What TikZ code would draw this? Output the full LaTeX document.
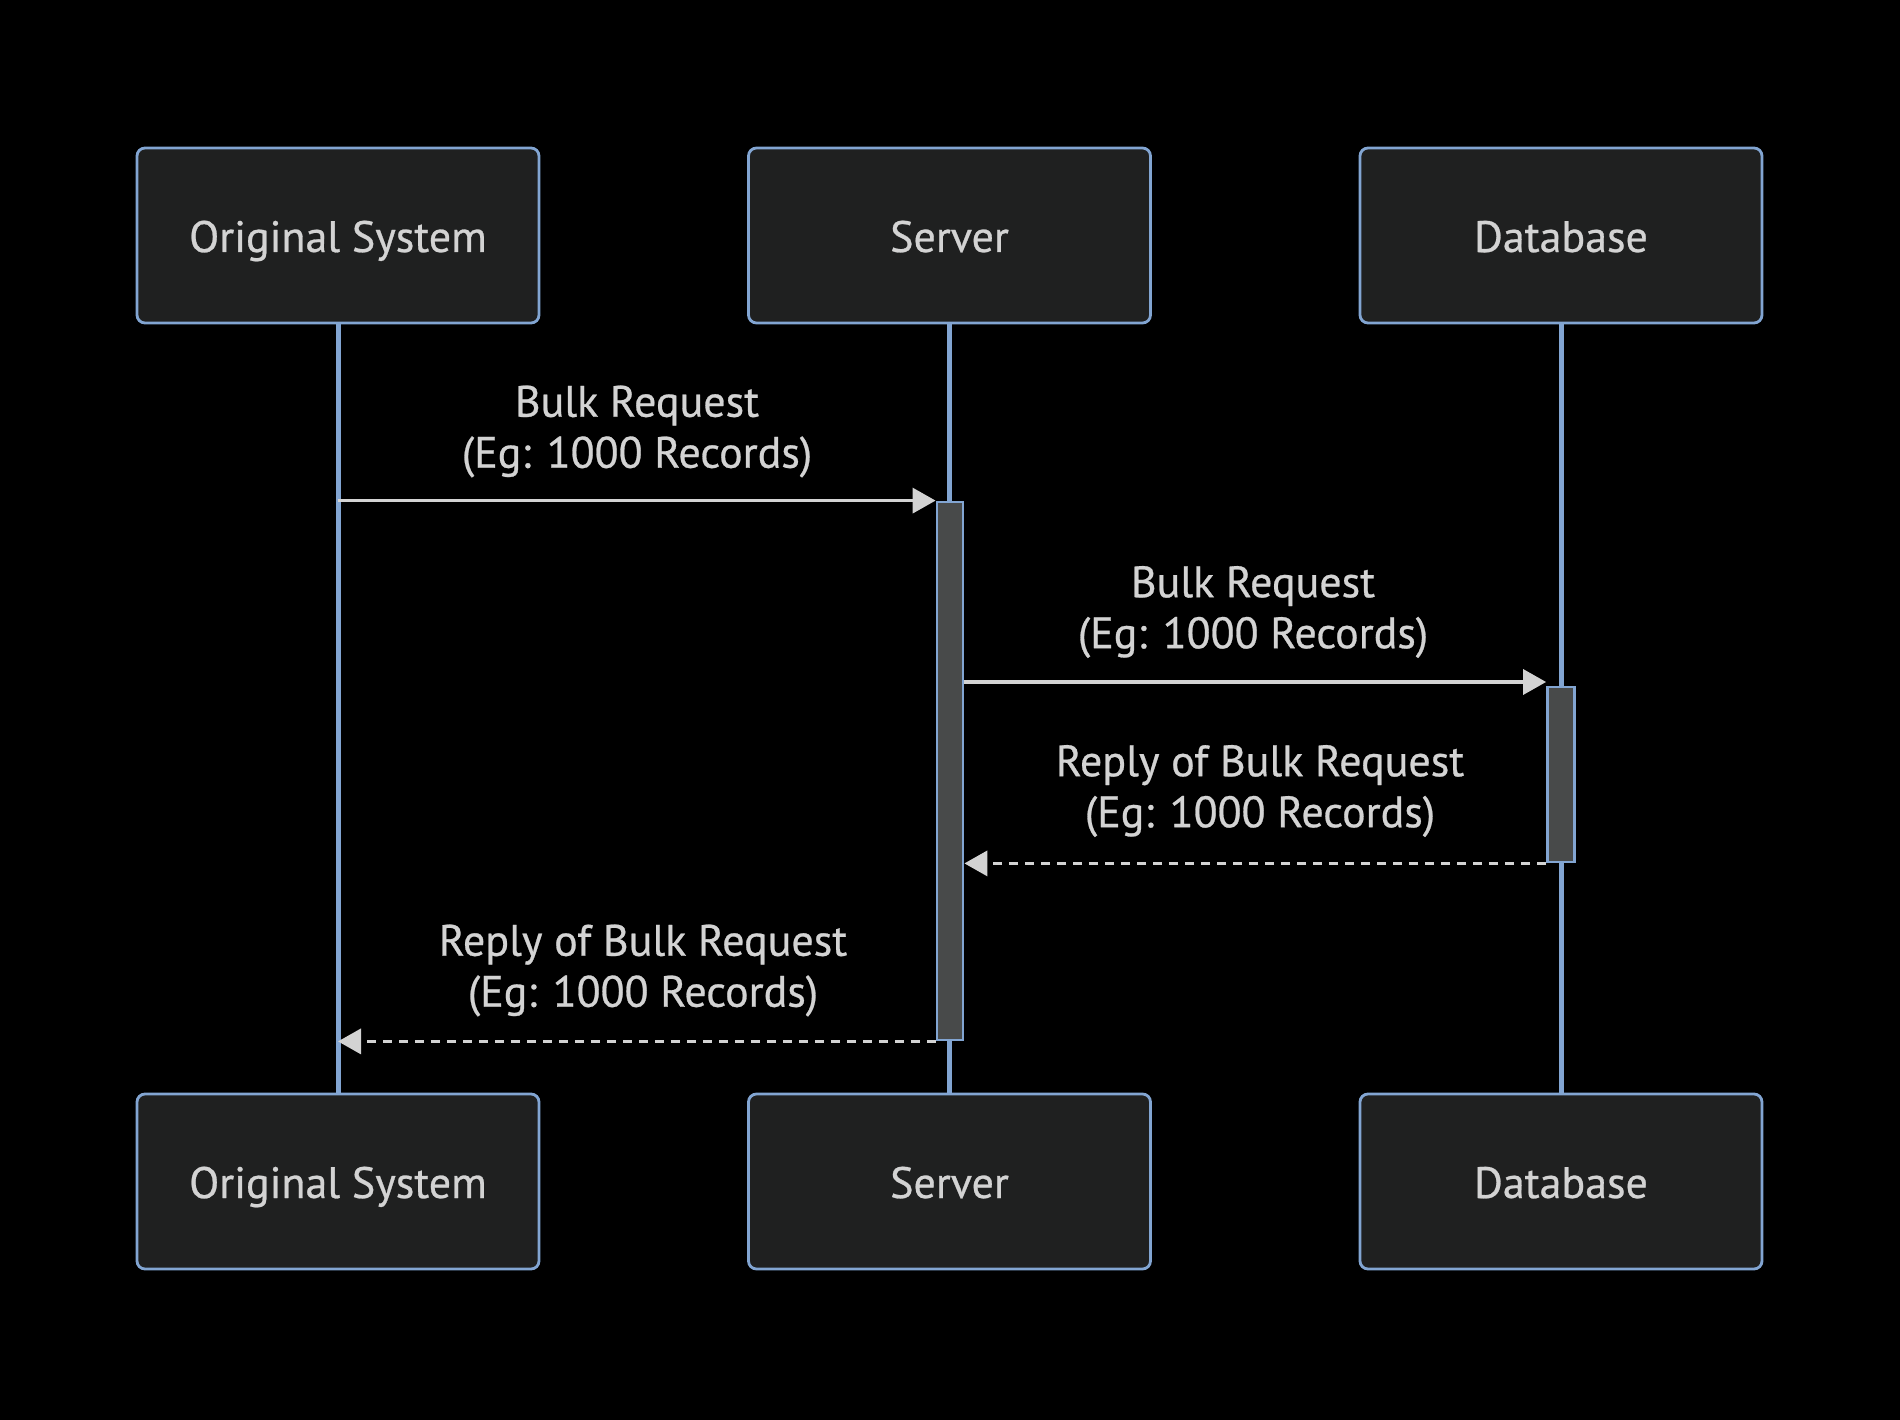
\documentclass[tikz,border=0pt]{standalone}
\usepackage{fontspec}
\setmainfont[FakeBold=0.6]{PT Sans}
\usetikzlibrary{arrows.meta}
\definecolor{boxfill}{HTML}{1F2020}
\definecolor{boxline}{HTML}{82A5D2}
\definecolor{txt}{HTML}{D3D3D3}
\definecolor{actfill}{HTML}{484A4A}
\definecolor{msgcol}{HTML}{D3D3D3}
\tikzset{
  actor/.style={draw=boxline, fill=boxfill, line width=2.8pt, rounded corners=8pt,
    minimum width=402pt, minimum height=175pt, inner sep=0pt, text=txt,
    text height=36pt, text depth=3pt},
  life/.style={draw=boxline, line width=5pt},
  actbox/.style={draw=boxline, fill=actfill, line width=2.8pt, inner sep=0pt},
  msg/.style={draw=msgcol, line width=3.5pt, -{Triangle[length=23pt, width=25pt]}},
  reply/.style={msg, dash pattern=on 9pt off 7pt},
  lbl/.style={text=txt, align=center, inner sep=0pt}
}
\begin{document}
\begin{tikzpicture}[x=1pt, y=-1pt, font=\fontsize{44}{51}\selectfont]
\path[fill=black, use as bounding box] (0,0) rectangle (1900,1420);
% actors
\node[actor] (ot) at (338,235.5) {Original System};
\node[actor] (st) at (949.5,235.5) {Server};
\node[actor] (dt) at (1561,235.5) {Database};
\node[actor] (ob) at (338,1181.5) {Original System};
\node[actor] (sb) at (949.5,1181.5) {Server};
\node[actor] (db) at (1561,1181.5) {Database};
% lifelines
\draw[life] (ot.south) -- (ob.north);
\draw[life] (st.south) -- (sb.north);
\draw[life] (dt.south) -- (db.north);
% activations
\node[actbox, minimum width=26pt, minimum height=538pt] (sa) at (950,771) {};
\node[actbox, minimum width=27pt, minimum height=175pt] (da) at (1561,774.5) {};
% messages
\coordinate (m2) at (0,682);
\draw[msg] (ot.south |- sa.north west) -- (sa.north west);
\draw[msg] (sa.east |- m2) -- (da.west |- m2);
\draw[reply] (da.south west) -- (sa.east |- da.south west);
\draw[reply] (sa.south west) -- (ot.south |- sa.south west);
% labels
\node[lbl] (l1) at (637,431.5) {Bulk Request\\(Eg: 1000 Records)};
\node[lbl] (l2) at (1253,612) {Bulk Request\\(Eg: 1000 Records)};
\node[lbl] (l3) at (1260,791) {Reply of Bulk Request\\(Eg: 1000 Records)};
\node[lbl] (l4) at (643,970.5) {Reply of Bulk Request\\(Eg: 1000 Records)};
\end{tikzpicture}
\end{document}
